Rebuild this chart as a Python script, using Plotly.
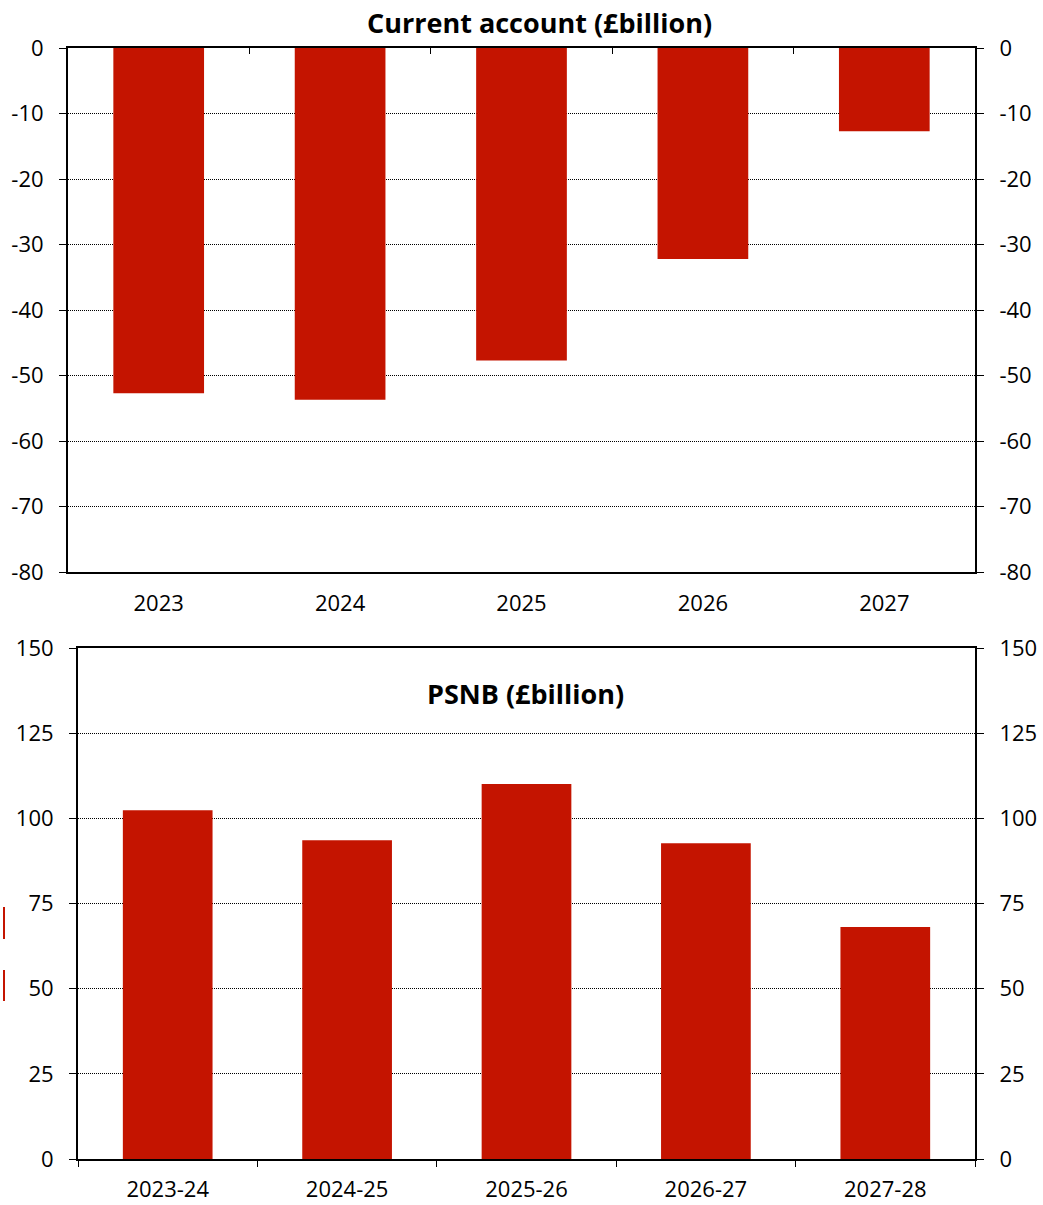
import plotly.graph_objects as go

# Data
ca_years = ["2023", "2024", "2025", "2026", "2027"]
ca_values = [-52.7, -53.7, -47.7, -32.2, -12.7]
psnb_years = ["2023-24", "2024-25", "2025-26", "2026-27", "2027-28"]
psnb_values = [102.4, 93.6, 110.1, 92.7, 68.1]
ca_ticks = [0, -10, -20, -30, -40, -50, -60, -70, -80]
ca_ticklabels = ["0", "-10", "-20", "-30", "-40", "-50", "-60", "-70", "-80"]
psnb_ticks = [0, 25, 50, 75, 100, 125, 150]
psnb_ticklabels = ["0", "25", "50", "75", "100", "125", "150"]

W, H = 1043, 1205
RED = "#C41400"
FONT = "Open Sans"

def px_y(p):
    return 1 - p / H

def px_x(p):
    return p / W

fig = go.Figure()

# Top chart
fig.add_trace(go.Bar(x=ca_years, y=ca_values, marker=dict(color=RED, line=dict(width=0)),
                     width=0.5, xaxis="x", yaxis="y", showlegend=False, hoverinfo="x+y"))
fig.add_trace(go.Scatter(x=ca_years, y=ca_values, mode="markers", marker=dict(opacity=0),
                         xaxis="x3", yaxis="y3", showlegend=False, hoverinfo="skip"))
# Bottom chart
fig.add_trace(go.Bar(x=psnb_years, y=psnb_values, marker=dict(color=RED, line=dict(width=0)),
                     width=0.5, xaxis="x2", yaxis="y2", showlegend=False, hoverinfo="x+y"))
fig.add_trace(go.Scatter(x=psnb_years, y=psnb_values, mode="markers", marker=dict(opacity=0),
                         xaxis="x2", yaxis="y4", showlegend=False, hoverinfo="skip"))

tickfont = dict(family=FONT, size=22, color="#000")
top_dom = [px_y(572), px_y(48)]
bot_dom = [px_y(1159), px_y(648)]
top_xdom = [px_x(68), px_x(975)]
bot_xdom = [px_x(78), px_x(975)]

grid = dict(showgrid=True, gridcolor="#000", gridwidth=1, griddash="1px,1px")

yax_common = dict(showline=True, linecolor="#000", linewidth=2, ticks="outside",
                  ticklen=7, tickcolor="#000", tickwidth=1, tickfont=tickfont,
                  zeroline=False, automargin=False, ticklabelstandoff=11)

fig.update_layout(
    width=W, height=H,
    margin=dict(l=0, r=0, t=0, b=0),
    paper_bgcolor="white", plot_bgcolor="white",
    xaxis=dict(domain=top_xdom, anchor="y", type="category", range=[-0.5, 4.5],
               showline=True, linecolor="#000", linewidth=2, mirror=True,
               ticks="", showgrid=False, tickfont=tickfont, ticklabelstandoff=11,
               automargin=False, zeroline=False),
    xaxis3=dict(domain=top_xdom, anchor="y", overlaying="x", side="top", type="category",
                range=[-0.5, 4.5], tickson="boundaries", ticks="inside", ticklen=6,
                tickcolor="#000", tickwidth=1, showticklabels=False, showline=False,
                showgrid=False, automargin=False),
    yaxis=dict(domain=top_dom, anchor="x", range=[-80, 0], tickvals=ca_ticks,
               ticktext=ca_ticklabels, **yax_common, **grid),
    yaxis3=dict(domain=top_dom, anchor="x", overlaying="y", side="right", range=[-80, 0],
                tickvals=ca_ticks, ticktext=ca_ticklabels, showgrid=False, **yax_common),
    xaxis2=dict(domain=bot_xdom, anchor="y2", type="category", range=[-0.5, 4.5],
                showline=True, linecolor="#000", linewidth=2, mirror=True,
                tickson="boundaries", ticks="outside", ticklen=6, tickcolor="#000",
                tickwidth=1, showgrid=False, tickfont=tickfont, automargin=False,
                zeroline=False, ticklabelstandoff=10),
    yaxis2=dict(domain=bot_dom, anchor="x2", range=[0, 150], tickvals=psnb_ticks,
                ticktext=psnb_ticklabels, **yax_common, **grid),
    yaxis4=dict(domain=bot_dom, anchor="x2", overlaying="y2", side="right", range=[0, 150],
                tickvals=psnb_ticks, ticktext=psnb_ticklabels, showgrid=False, **yax_common),
    annotations=[
        dict(text="<b>Current account (£billion)</b>", x=px_x(539), y=px_y(22),
             xref="paper", yref="paper", showarrow=False, xanchor="center", yanchor="middle",
             font=dict(family=FONT, size=27, color="#000")),
        dict(text="<b>PSNB (£billion)</b>", x=px_x(525), y=px_y(693),
             xref="paper", yref="paper", showarrow=False, xanchor="center", yanchor="middle",
             font=dict(family=FONT, size=27, color="#000")),
    ],
    shapes=[
        dict(type="line", xref="paper", yref="paper", x0=px_x(4), x1=px_x(4),
             y0=px_y(907), y1=px_y(939), line=dict(color=RED, width=2)),
        dict(type="line", xref="paper", yref="paper", x0=px_x(4), x1=px_x(4),
             y0=px_y(970), y1=px_y(1001), line=dict(color=RED, width=2)),
    ],
)

fig.write_html("out.html", config={"displayModeBar": False},
               post_script="document.body.style.margin='0';document.body.style.overflow='hidden';")
